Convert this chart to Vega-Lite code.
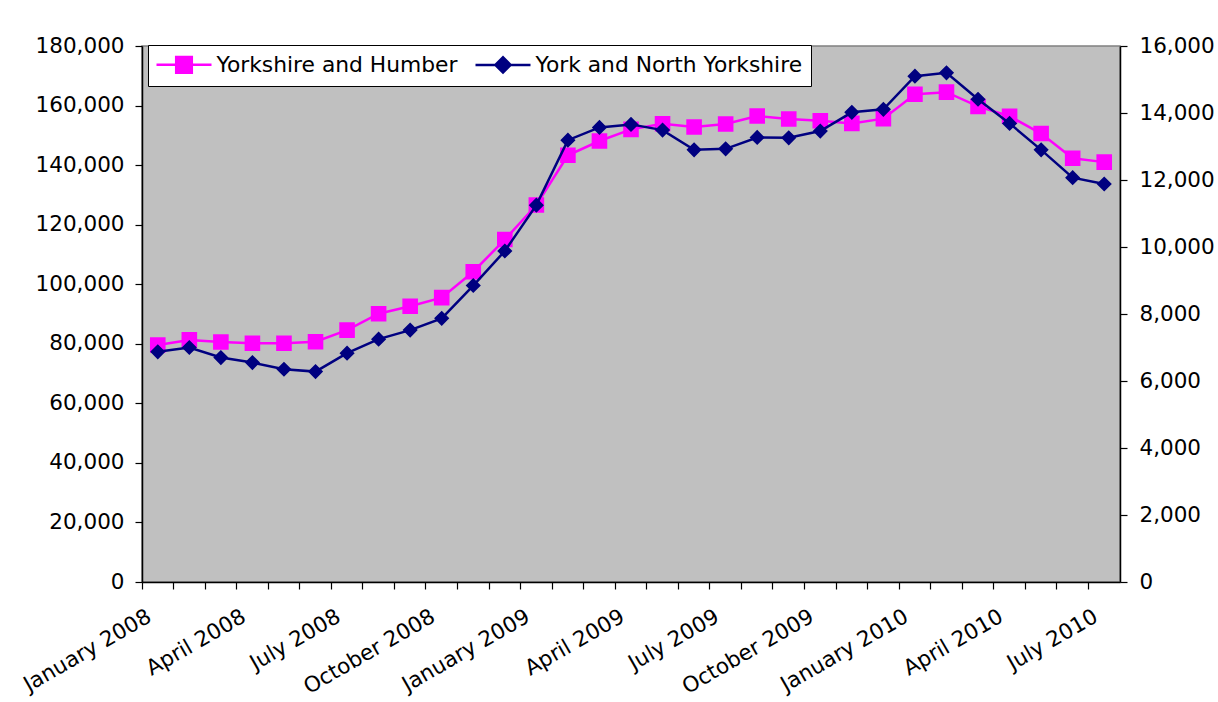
{
  "$schema": "https://vega.github.io/schema/vega-lite/v6.json",
  "width": 978,
  "height": 536,
  "autosize": {"type": "none"},
  "padding": {"left": 142, "top": 46, "right": 98, "bottom": 120},
  "background": "white",
  "config": {
    "view": {"fill": "#C0C0C0", "stroke": "#808080", "strokeWidth": 1.5},
    "font": "DejaVu Sans",
    "axis": {
      "labelFont": "DejaVu Sans",
      "labelFontSize": 21.5,
      "labelColor": "#000000",
      "domainColor": "#000000",
      "tickColor": "#000000",
      "domainWidth": 1.5,
      "tickWidth": 1.2,
      "grid": false,
      "title": null
    }
  },
  "data": {
    "values": [
      {"month": "January 2008", "yh": 79600, "ny": 6870},
      {"month": "February 2008", "yh": 81300, "ny": 7000},
      {"month": "March 2008", "yh": 80600, "ny": 6700},
      {"month": "April 2008", "yh": 80200, "ny": 6550},
      {"month": "May 2008", "yh": 80200, "ny": 6350},
      {"month": "June 2008", "yh": 80700, "ny": 6280},
      {"month": "July 2008", "yh": 84600, "ny": 6830},
      {"month": "August 2008", "yh": 90100, "ny": 7250},
      {"month": "September 2008", "yh": 92600, "ny": 7520},
      {"month": "October 2008", "yh": 95500, "ny": 7870},
      {"month": "November 2008", "yh": 104200, "ny": 8850},
      {"month": "December 2008", "yh": 115000, "ny": 9880},
      {"month": "January 2009", "yh": 126600, "ny": 11250},
      {"month": "February 2009", "yh": 143300, "ny": 13190},
      {"month": "March 2009", "yh": 148100, "ny": 13570},
      {"month": "April 2009", "yh": 152000, "ny": 13660},
      {"month": "May 2009", "yh": 153900, "ny": 13490},
      {"month": "June 2009", "yh": 152800, "ny": 12900},
      {"month": "July 2009", "yh": 153800, "ny": 12930},
      {"month": "August 2009", "yh": 156500, "ny": 13270},
      {"month": "September 2009", "yh": 155500, "ny": 13260},
      {"month": "October 2009", "yh": 154900, "ny": 13460},
      {"month": "November 2009", "yh": 154000, "ny": 14020},
      {"month": "December 2009", "yh": 155600, "ny": 14110},
      {"month": "January 2010", "yh": 163800, "ny": 15100},
      {"month": "February 2010", "yh": 164500, "ny": 15200},
      {"month": "March 2010", "yh": 159700, "ny": 14410},
      {"month": "April 2010", "yh": 156400, "ny": 13690},
      {"month": "May 2010", "yh": 150600, "ny": 12900},
      {"month": "June 2010", "yh": 142300, "ny": 12070},
      {"month": "July 2010", "yh": 141000, "ny": 11880}
    ]
  },
  "encoding": {
    "x": {
      "field": "month",
      "type": "ordinal",
      "sort": null,
      "scale": {"type": "band", "paddingInner": 0, "paddingOuter": 0},
      "axis": {
        "labelAngle": -30,
        "labelAlign": "right",
        "labelBaseline": "middle",
        "labelOffset": -8,
        "labelPadding": 26,
        "tickSize": 7,
        "bandPosition": 0,
        "labelOverlap": false,
        "labelBound": false,
        "labelFlush": false,
        "labelExpr": "indexof(['January','April','July','October'], split(datum.label, ' ')[0]) >= 0 ? datum.label : ''"
      }
    }
  },
  "layer": [
    {
      "layer": [
        {
          "mark": {"type": "line", "color": "#FF00FF", "strokeWidth": 2.5},
          "encoding": {
            "y": {
              "field": "yh",
              "type": "quantitative",
              "scale": {"domain": [0, 180000], "nice": false},
              "axis": {
                "orient": "left",
                "values": [0, 20000, 40000, 60000, 80000, 100000, 120000, 140000, 160000, 180000],
                "format": ",d",
                "tickSize": 7,
                "labelPadding": 11
              }
            }
          }
        },
        {
          "mark": {"type": "point", "filled": true, "size": 400, "opacity": 1, "strokeWidth": 0},
          "encoding": {
            "y": {"field": "yh", "type": "quantitative"},
            "color": {
              "datum": "Yorkshire and Humber",
              "type": "nominal",
              "scale": {"domain": ["Yorkshire and Humber", "York and North Yorkshire"], "range": ["#FF00FF", "#000080"]},
              "legend": {
                "orient": "none",
                "legendX": 6,
                "legendY": -1,
                "direction": "horizontal",
                "title": null,
                "fillColor": "white",
                "strokeColor": "#000000",
                "padding": 8,
                "labelFont": "DejaVu Sans",
                "labelFontSize": 21.8,
                "labelColor": "#000000",
                "labelLimit": 0,
                "symbolSize": 400,
                "symbolStrokeWidth": 2.5,
                "symbolStrokeColor": {"expr": "scale('color', datum.value)"},
                "symbolOffset": 16.5,
                "labelOffset": 21,
                "columnPadding": 12
              }
            },
            "shape": {
              "datum": "Yorkshire and Humber",
              "type": "nominal",
              "scale": {"domain": ["Yorkshire and Humber", "York and North Yorkshire"], "range": ["M-2.75,0H2.75M-0.78,-0.78H0.78V0.78H-0.78Z", "M-2.75,0H2.75M-0.76,0L0,-0.76L0.76,0L0,0.76Z"]}
            }
          }
        }
      ]
    },
    {
      "layer": [
        {
          "mark": {"type": "line", "color": "#000080", "strokeWidth": 2.5},
          "encoding": {
            "y": {
              "field": "ny",
              "type": "quantitative",
              "scale": {"domain": [0, 16000], "nice": false},
              "axis": {
                "orient": "right",
                "values": [0, 2000, 4000, 6000, 8000, 10000, 12000, 14000, 16000],
                "format": ",d",
                "tickSize": 7,
                "labelPadding": 12
              }
            }
          }
        },
        {
          "mark": {"type": "point", "filled": true, "size": 400, "opacity": 1, "strokeWidth": 0},
          "encoding": {
            "y": {"field": "ny", "type": "quantitative"},
            "color": {"datum": "York and North Yorkshire", "type": "nominal"},
            "shape": {"datum": "York and North Yorkshire", "type": "nominal"}
          }
        }
      ]
    }
  ],
  "resolve": {"scale": {"y": "independent"}}
}
